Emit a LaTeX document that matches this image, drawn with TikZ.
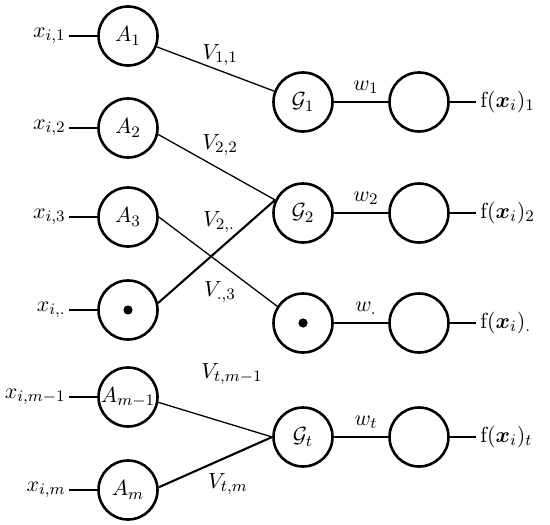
\documentclass[tikz,border=0pt]{standalone}
\usepackage{amsmath}
\usepackage{bm}
\begin{document}
\begin{tikzpicture}[x=0.5pt,y=-0.5pt,
  every node/.style={font=\fontsize{11}{13}\selectfont},
  unit/.style={circle,draw,line width=1.3pt,minimum size=29.5pt,inner sep=0pt},
  inlab/.style={anchor=east,inner sep=1.5pt},
  outlab/.style={anchor=west,inner sep=2pt},
  thinedge/.style={line width=0.65pt},
  thickedge/.style={line width=1.05pt},
  inedge/.style={line width=0.85pt},
  outedge/.style={line width=0.7pt},
  wlab/.style={inner sep=1pt},
  vlab/.style={inner sep=1pt}]
\useasboundingbox (0,0) rectangle (550,524);
% left column
\node[unit] (a1) at (128,36) {$A_1$};
\node[unit] (a2) at (128,128) {$A_2$};
\node[unit] (a3) at (128,217) {$A_3$};
\node[unit] (ad) at (128,310) {};
\fill (ad.center) circle (2.3pt);
\node[unit] (am1) at (128,397) {$A_{m-1}$};
\node[unit] (am) at (128,490) {$A_m$};
% middle column
\node[unit] (g1) at (303,102) {$\mathcal{G}_1$};
\node[unit] (g2) at (303,213) {$\mathcal{G}_2$};
\node[unit] (gd) at (303,323) {};
\fill (gd.center) circle (2.3pt);
\node[unit] (gt) at (303,437) {$\mathcal{G}_t$};
% right column
\node[unit] (o1) at (419,102) {};
\node[unit] (o2) at (419,213) {};
\node[unit] (od) at (419,323) {};
\node[unit] (ot) at (419,437) {};
% input labels
\node[inlab] (x1) at (69,36) {$x_{i,1}$};
\node[inlab] (x2) at (69,128) {$x_{i,2}$};
\node[inlab] (x3) at (69,217) {$x_{i,3}$};
\node[inlab] (xd) at (69,310) {$x_{i,.}$};
\node[inlab] (xm1) at (69,397) {$x_{i,m-1}$};
\node[inlab] (xm) at (69,490) {$x_{i,m}$};
\foreach \l/\n in {x1/a1,x2/a2,x3/a3,xd/ad,xm1/am1,xm/am}
  \draw[inedge] (\l.east |- \n) -- (\n);
% output labels
\node[outlab] (f1) at (476,102) {$\mathrm{f}(\bm{x}_i)_1$};
\node[outlab] (f2) at (476,213) {$\mathrm{f}(\bm{x}_i)_2$};
\node[outlab] (fd) at (476,323) {$\mathrm{f}(\bm{x}_i)_.$};
\node[outlab] (ft) at (476,437) {$\mathrm{f}(\bm{x}_i)_t$};
\foreach \o/\f in {o1/f1,o2/f2,od/fd,ot/ft}
  \draw[outedge] (\o) -- (\f.west |- \o);
% weights
\draw[thickedge] (g1) -- (o1);
\draw[thickedge] (g2) -- (o2);
\draw[thickedge] (gd) -- (od);
\draw[thickedge] (gt) -- (ot);
\node[wlab] (w1) at (366,87) {$w_1$};
\node[wlab] (w2) at (366,198) {$w_2$};
\node[wlab] (wd) at (366,308) {$w_.$};
\node[wlab] (wt) at (366,422) {$w_t$};
% V edges
\draw[thinedge] (a1) -- (g1);
\draw[thinedge] (a2.-12) -- (g2.155);
\draw[thinedge] (a3.east) -- (gd.147);
\draw[thickedge] (ad.13) -- (g2.155);
\draw[thinedge] (am1.-10) -- (gt.west);
\draw[thickedge] (am.5) -- (gt.west);
\node[vlab] (v11) at (220,55) {$V_{1,1}$};
\node[vlab] (v22) at (220,145) {$V_{2,2}$};
\node[vlab] (v2d) at (219,222) {$V_{2,.}$};
\node[vlab] (vd3) at (220,292) {$V_{.,3}$};
\node[vlab] (vtm1) at (232,374) {$V_{t,m-1}$};
\node[vlab] (vtm) at (228,484) {$V_{t,m}$};
\end{tikzpicture}
\end{document}
